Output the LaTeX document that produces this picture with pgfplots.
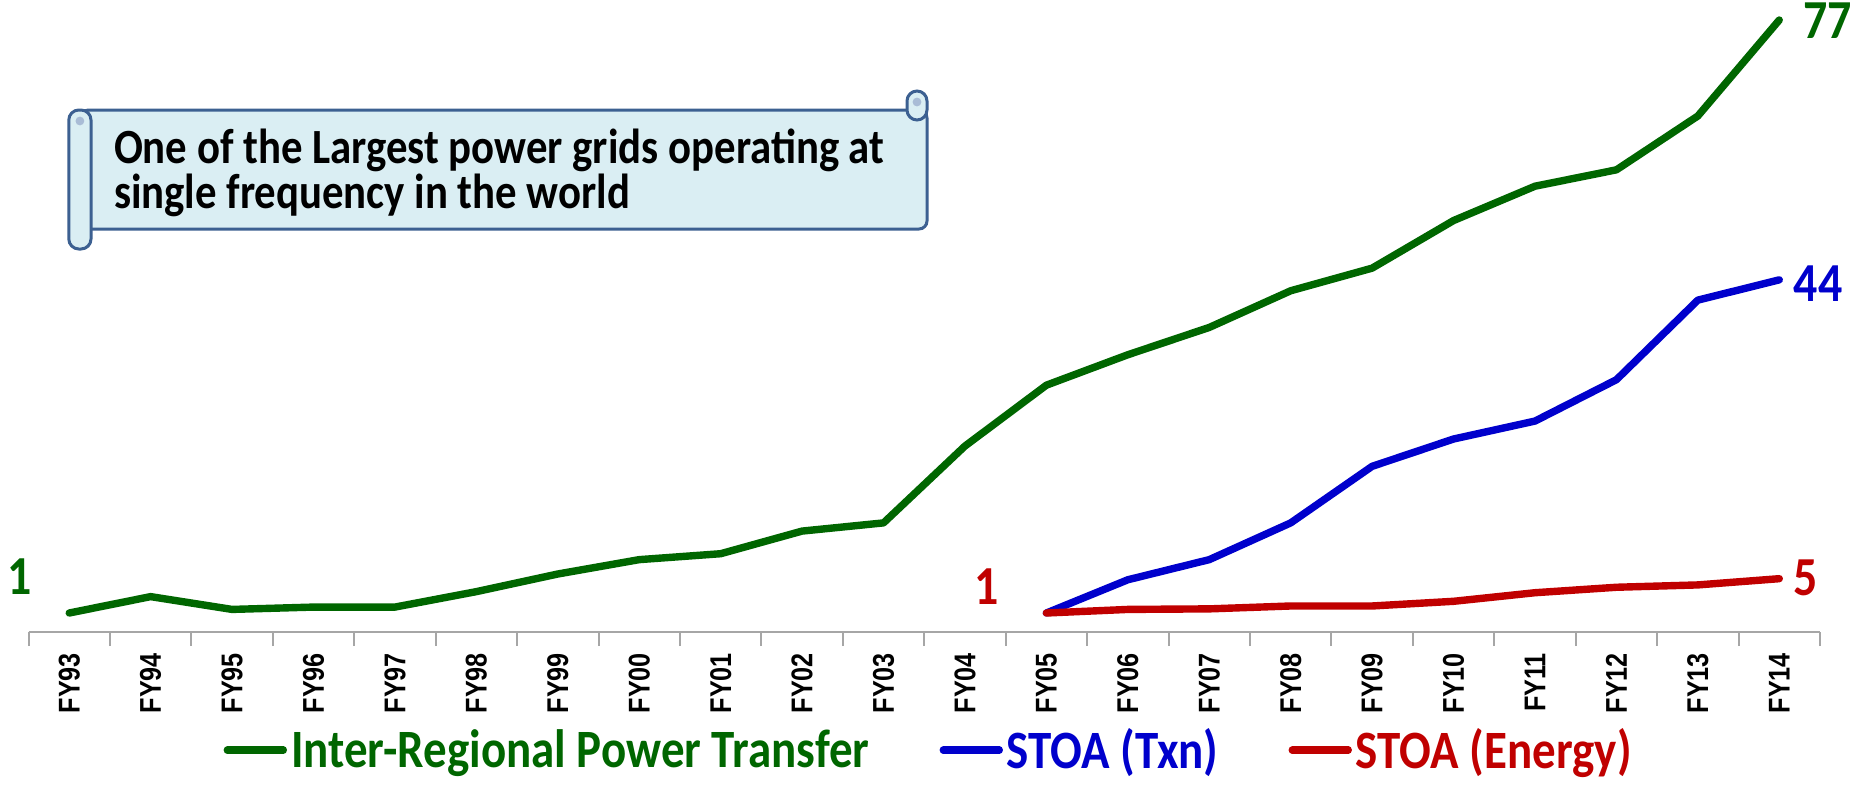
\documentclass[border=0pt]{standalone}
\usepackage{pgfplots}
\pgfplotsset{compat=1.18}
\usepackage{fontspec}
\setmainfont{Carlito}
\newfontfamily\calx{Carlito}[FakeStretch=0.87]
\newfontfamily\tickfont{Liberation Sans}[FakeStretch=0.84]

\definecolor{cgreen}{HTML}{006600}
\definecolor{cblue}{HTML}{0000CC}
\definecolor{cred}{HTML}{C00000}
\definecolor{axgray}{HTML}{A6A6A6}
\definecolor{scrollfill}{HTML}{DAEEF3}
\definecolor{scrollline}{HTML}{3C6091}
\definecolor{curlfill}{HTML}{A9BCD6}

\begin{document}
\begin{tikzpicture}[lbl/.style={inner sep=0pt, font=\calx\bfseries\fontsize{27.5}{30}\selectfont}]
\begin{axis}[
    scale only axis,
    width=895.75pt, height=317.7pt,
    xmin=-0.5, xmax=21.5,
    ymin=-1.435, ymax=80,
    axis y line=none,
    axis x line=bottom,
    x axis line style={-, draw=axgray, line width=1pt},
    xtick={0,...,21},
    xticklabels={FY93,FY94,FY95,FY96,FY97,FY98,FY99,FY00,FY01,FY02,FY03,FY04,FY05,FY06,FY07,FY08,FY09,FY10,FY11,FY12,FY13,FY14},
    minor xtick={-0.5,0.5,...,21.5},
    major tick length=0pt,
    minor tick length=7pt,
    tick align=outside,
    every tick/.style={draw=axgray, line width=1pt},
    xticklabel style={rotate=90, anchor=east, font=\tickfont\bfseries\fontsize{15}{17}\selectfont},
    xticklabel shift=7pt,
    clip=false,
    legend style={at={(0.503,-0.186)}, anchor=center, draw=none, fill=none,
        font=\calx\bfseries\fontsize{27}{30}\selectfont,
        /tikz/every even column/.append style={column sep=33pt}},
    legend columns=3,
    legend image code/.code={\draw[#1] (0pt,0pt) -- (28pt,0pt);},
    every axis plot/.append style={line width=3.7pt, line cap=round, line join=round},
]

% Inter-Regional Power Transfer
\addplot[cgreen] coordinates {
    (0,1) (1,3.1) (2,1.46) (3,1.76) (4,1.76) (5,3.74) (6,6.0) (7,7.84)
    (8,8.6) (9,11.5) (10,12.55) (11,22.4) (12,30.2) (13,34.1) (14,37.6)
    (15,42.3) (16,45.2) (17,51.3) (18,55.7) (19,57.8) (20,64.7) (21,77)
};
\addlegendentry{\textcolor{cgreen}{Inter-Regional Power Transfer}}

% STOA (Txn)
\addplot[cblue] coordinates {
    (12,1) (13,5.26) (14,7.84) (15,12.55) (16,19.8) (17,23.3) (18,25.6)
    (19,30.9) (20,41.1) (21,43.7)
};
\addlegendentry{\textcolor{cblue}{STOA (Txn)}}

% STOA (Energy)
\addplot[cred] coordinates {
    (12,1) (13,1.46) (14,1.53) (15,1.9) (16,1.9) (17,2.5) (18,3.6)
    (19,4.3) (20,4.6) (21,5.4)
};
\addlegendentry{\textcolor{cred}{STOA (Energy)}}

% end labels
\node[lbl, cgreen, anchor=east, xshift=-18.3pt, yshift=18.4pt] at (axis cs:0,1) {1};
\node[lbl, cred, anchor=east, xshift=-23.7pt, yshift=13pt] at (axis cs:12,1) {1};
\node[lbl, cgreen, anchor=west, xshift=11.9pt, yshift=-0.5pt] at (axis cs:21,77) {77};
\node[lbl, cblue, anchor=west, xshift=7.1pt, yshift=-1.8pt] at (axis cs:21,43.7) {44};
\node[lbl, cred, anchor=west, xshift=7.1pt, yshift=0.5pt] at (axis cs:21,5.4) {5};
\end{axis}

% scroll callout
\begin{scope}[x=1pt, y=1pt, line width=1.5pt]
  \draw[scrollline, fill=scrollfill, rounded corners=4pt] (26,201.5) rectangle (449.25,261);
  \draw[scrollline, fill=scrollfill, rounded corners=5pt] (439.25,256) rectangle (449.25,270.5);
  \fill[curlfill] (444.25,265) circle (2.2pt);
  \draw[scrollline, fill=scrollfill, rounded corners=5pt] (20.15,191.5) rectangle (31.25,261);
  \fill[curlfill] (25.7,255.5) circle (2.2pt);
  \node[anchor=west, inner sep=0pt, font=\calx\bfseries\fontsize{24.6}{27}\selectfont] at (42,240.7) {One of the Largest power grids operating at};
  \node[anchor=west, inner sep=0pt, font=\calx\bfseries\fontsize{24.6}{27}\selectfont] at (42,218.2) {single frequency in the world};
\end{scope}

\pgfresetboundingbox
\path (-14.25pt,-76pt) rectangle (915.25pt,316pt);
\end{tikzpicture}
\end{document}
